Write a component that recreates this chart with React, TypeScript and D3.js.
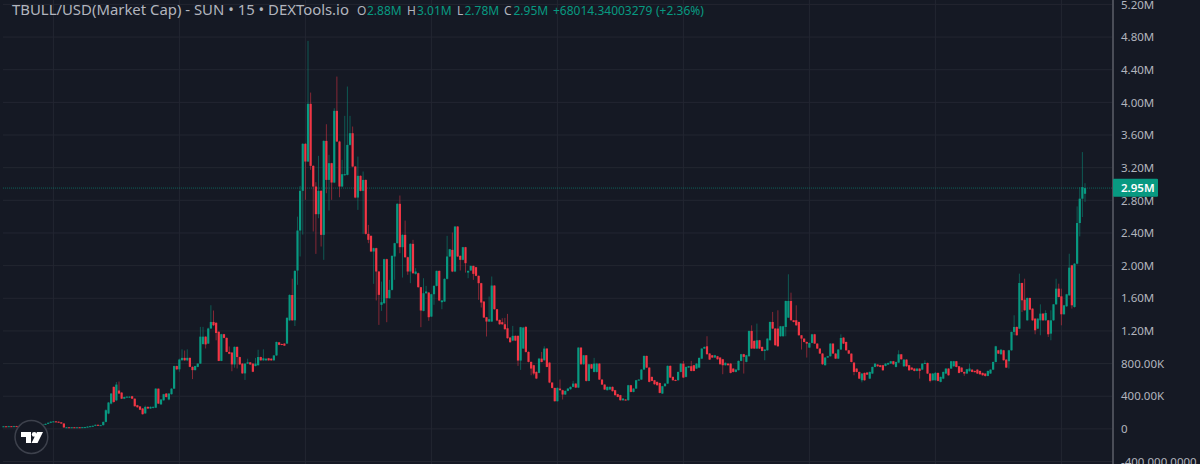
import React from 'react';
import { axisRight, scaleLinear, select } from 'd3';

// values in thousands, one entry per 15 minute bar
const opens = [
  30,32,30,33,32,34,32,33,32,31, 33,35,32,34,36,42,52,62,75,88,
  92,88,80,66,18,20,19,20,19,20, 19,21,22,28,33,38,50,45,
  46,86,188,310,515,350,470,445,370,390, 385,400,370,290,275,250,190,270,250,258,
  260,493,300,350,433,360,425,493,770,730, 840,870,840,870,760,720,760,800,1040,1130,
  1045,1230,1310,1300,1190,833,1160,1115,943,935, 790,1005,880,800,680,800,815,800,770,780,
  880,840,840,865,860,840,900,1060,1040,1045, 1045,1330,1640,1330,
  1940,2430,2916,3492,3275,3982,3222,2969,2630,2916, 2377,3528,3050,3255,3018,3896,3520,2969,3110,3112,
  3479,3622,3214,2834,3100,2916,3050,2389,2365,2173, 2214,1928,1520,1540,2079,1601,1703,2112,2275,2757,
  2226,2377,2103,1928,2267,1899,1907,1736,1446,1662, 1670,1376,1650,1752,1936,1552,1560,1838,2112,2193,
  1928,2479,2120,2071,2226,1915,1940,1997,1981,1875, 1785,1560,1368,1315,1315,1756,1466,1335,1307,1282,
  1233,1119,1082,1140,1140,837,984,1249,943,821, 780,698,686,861,841,984,812,568,502,339,
  494,474,421,466,486,515,555,506,996,792, 902,588,792,698,698,800,604,543,474,482,
  515,474,425,413,351,360,351,535,453,494, 596,604,727,894,751,637,596,576,563,433,523,
  555,772,637,600,596,698, 800,637,751,768,780,739,751,861,984,1012,
  923,902,874,890,874,853,780,800,800,739, 698,719,833,915,821,890,1200,1078,984,1086,
  1004,955,963,1086,1310,1229,1229,1135,1135,1249, 1363,1567,1331,1331,1310,1147,1106,1065,996,1053,
  1159,1045,984,923,780,874,890,1045,923,861,972,
  1118,1065,963,922,812,739,698,596,686,690, 616,678,759,788,780,780,771,788,800,829,
  759,812,914,767,849,780,751,739,710,739, 726,800,808,678,596,596,686,576,616,678,
  739,739,767,829,767,751,698,678,706,726, 710,726,710,686,678,649,678,726,820,963,
  914,963,849,829,963,1188,1249,1228,1787,1583, 1330,1604,1473,1351,1228,1330,1412,1330,1330,1167,
  1330,1526,1718,1624,1404,1502,1636,2004,1494,2024, 2522,2820,2880,
];
const closes = [
  32,30,33,32,34,32,33,32,31,33, 35,32,34,36,42,52,62,75,88,92,
  88,80,66,18,20,19,20,19,20,19, 21,22,28,33,38,50,45,46,
  86,229,323,433,330,543,433,370,390,395, 395,370,277,265,235,180,270,250,270,270,
  493,310,360,425,390,433,493,770,730,850, 870,840,870,760,720,770,800,1130,1130,1035,
  1230,1310,1270,1175,833,1160,1115,943,920,790, 1005,880,790,680,800,815,790,700,800,880,
  840,865,860,840,840,900,1065,1030,1030,1020, 1360,1640,1330,1935,
  2430,2916,3492,3275,3982,3222,2969,2630,2916,2377, 3528,3050,3255,3018,3896,3520,2969,3120,3120,3479,
  3622,3214,2834,3100,2916,3050,2389,2316,2173,2214, 1928,1642,1552,2079,1601,1703,2120,2275,2757,2226,
  2377,2103,1928,2267,1907,1928,1736,1450,1662,1683, 1368,1650,1752,1936,1573,1573,1838,2112,2201,1928,
  2479,2112,2071,2226,2030,1936,1997,1899,1875,1785, 1548,1364,1315,1344,1756,1466,1328,1282,1282,1221,
  1111,1062,1140,1082,837,1246,1241,943,821,739, 678,617,861,820,984,759,568,502,339,502,
  474,421,466,494,515,555,506,996,792,902, 588,792,739,800,800,604,543,482,515,515,
  462,413,392,351,372,351,535,453,494,596, 604,727,894,751,576,588,547,535,441,523,555,
  772,629,596,590,698,800, 629,759,768,710,710,800,870,984,1004,915,
  849,874,902,853,792,780,809,780,686,698, 727,833,915,882,902,1200,984,984,1086,984,
  955,972,1106,1310,1229,1025,1012,1257,1257,1567, 1567,1331,1310,1269,1147,1106,1065,1045,1053,1159,
  1045,984,923,792,874,890,1045,923,861,972,1114,
  1045,963,922,820,698,698,616,678,596,665, 698,759,800,767,759,718,800,808,829,792,
  820,914,853,849,767,718,726,710,739,710, 800,808,678,588,678,686,588,637,698,739,
  657,829,829,759,686,698,678,731,739,698, 695,678,669,657,649,710,726,820,1012,922,
  971,841,751,963,1188,1249,1147,1787,1575,1453, 1604,1461,1330,1208,1351,1412,1330,1420,1159,1330,
  1526,1718,1616,1404,1514,1649,1975,1514,2024,2522, 2820,2962,2950,
];
const highs = [
  36,36,37,36,38,38,37,36,36,37, 38,38,38,40,46,56,66,80,92,97,
  96,92,84,70,23,23,23,23,23,23, 24,25,32,37,42,54,54,50,
  90,240,330,440,520,575,580,450,395,400, 400,405,375,295,280,255,285,275,275,275,
  500,495,365,430,440,440,500,775,775,860, 975,960,975,875,765,775,805,1250,1250,1135,
  1240,1515,1450,1305,1195,1165,1165,1120,1010,940, 1010,1010,885,805,805,860,820,805,870,970,
  885,975,865,870,865,905,1070,1065,1045,1050, 1370,1650,1840,1945,
  2600,2977,3500,3500,4753,4120,3230,3022,3345,2925, 3535,3732,3357,3260,3928,4316,3530,3296,3835,4194,
  3835,3704,3220,3336,3105,3153,3055,2499,2370,2220, 2220,1935,1805,2085,2085,1826,2125,2280,2765,2859,
  2385,2552,2110,2275,2316,1969,1915,1740,1846,1752, 1675,1655,1760,1940,1940,1580,1845,2365,2205,2406,
  2485,2485,2125,2230,2230,1940,2000,2000,1985,1880, 1790,1565,1372,1622,1867,1760,1470,1340,1356,1360,
  1409,1125,1262,1145,1145,1250,1250,1261,950,825, 785,705,870,943,1012,990,815,570,505,510,
  604,480,470,500,520,588,560,1000,1000,905, 905,795,795,870,810,805,610,548,520,520,
  520,478,430,418,376,365,540,540,498,600, 610,732,900,898,755,642,600,580,566,528,560,
  778,778,642,605,702,805, 833,765,772,833,785,805,875,990,1010,1135,
  930,905,908,895,878,858,815,805,805,745, 732,838,920,920,908,1205,1269,1085,1290,1090,
  1010,978,1110,1315,1433,1235,1453,1262,1262,1572, 1894,1669,1335,1514,1315,1150,1110,1070,1058,1165,
  1165,1050,988,928,880,895,1050,1050,928,978,1159,
  1123,1070,968,926,816,743,702,684,690,695, 702,763,805,792,785,785,805,812,833,833,
  825,963,918,853,853,785,755,743,743,743, 805,841,812,683,684,698,690,642,702,743,
  743,833,833,833,771,755,702,735,800,730, 715,730,715,690,682,715,730,825,1018,968,
  975,968,853,968,1192,1392,1255,1902,1792,1840, 1610,1608,1478,1355,1355,1526,1418,1453,1335,1453,
  1530,1840,1779,1718,1520,1655,2146,2010,2030,2726, 2962,3391,3010,
];
const lows = [
  27,27,27,28,28,28,28,28,27,27, 29,29,28,30,32,38,48,58,70,84,
  84,76,62,14,15,15,15,15,15,15, 15,17,18,24,29,34,41,41,
  41,80,180,300,320,340,425,365,365,385, 380,365,275,260,230,175,185,245,245,250,
  255,305,295,345,385,350,420,490,720,700, 840,835,830,755,610,715,755,795,1030,985,
  1040,1225,1260,1085,830,830,1110,940,915,706, 750,740,785,675,600,795,785,695,765,775,
  835,835,835,835,835,835,895,1025,1025,1015, 1040,1320,1325,1260,
  1765,2112,2380,2806,3270,3173,2418,2144,2581,2234, 2071,2887,2675,2806,3010,3515,2838,2960,3100,3105,
  3470,3205,2825,2683,2910,2389,2380,2275,2165,1777, 1573,1274,1446,1530,1307,1595,1695,1826,2270,2152,
  1854,2095,1887,1785,1900,1890,1730,1246,1440,1655, 1324,1370,1520,1745,1565,1466,1555,1830,2105,1920,
  1920,2105,1940,2065,1915,1846,1935,1826,1870,1581, 1487,1360,1132,1310,1310,1460,1320,1275,1275,1215,
  1105,1055,1075,1075,772,723,980,935,815,657, 657,610,680,815,835,755,560,495,335,335,
  470,360,415,460,480,510,500,500,785,785, 580,583,735,692,690,600,538,478,470,478,
  458,408,388,346,346,346,346,448,448,490, 592,600,722,746,570,584,542,530,436,428,518,
  550,622,590,585,592,693, 622,630,745,705,705,735,745,855,980,910,
  845,870,870,848,788,670,775,775,680,692, 692,715,828,678,815,885,980,980,980,978,
  950,841,958,1080,1222,1020,1005,1130,1130,1135, 1358,1325,1305,1263,1142,972,1060,874,990,1048,
  1040,980,918,785,775,870,885,918,856,856,968,
  1040,958,916,814,657,692,610,570,590,660, 610,672,754,762,754,712,766,783,795,786,
  753,806,848,760,762,712,720,705,705,616, 720,795,672,570,590,590,582,570,610,672,
  652,735,762,754,680,694,650,674,702,694, 690,673,664,652,640,645,674,720,815,918,
  910,836,746,739,958,1147,1142,1222,1432,1448, 1325,1455,1325,1159,1222,1147,1325,1325,1126,1086,
  1325,1520,1610,1269,1400,1495,1630,1473,1485,2015, 2358,2595,2780,
];

const priceTicks = [5200, 4800, 4400, 4000, 3600, 3200, 2800, 2400, 2000, 1600, 1200, 800, 400, 0, -400];
const priceLabels = ['5.20M', '4.80M', '4.40M', '4.00M', '3.60M', '3.20M', '2.80M', '2.40M', '2.00M', '1.60M', '1.20M', '800.00K', '400.00K', '0', '-400,000.0000'];
const timeTicks = [19, 67, 115, 163, 211, 259, 307, 355, 403];

const lastPrice = 2950;
const lastLabel = '2.95M';

const legend = [
  { text: 'O', x: 357, c: 'label' },
  { text: '2.88M', x: 367, c: 'up' },
  { text: 'H', x: 407, c: 'label' },
  { text: '3.01M', x: 417, c: 'up' },
  { text: 'L', x: 457, c: 'label' },
  { text: '2.78M', x: 464.5, c: 'up' },
  { text: 'C', x: 504, c: 'label' },
  { text: '2.95M', x: 513.5, c: 'up' },
  { text: '+68014.34003279', x: 553, c: 'up' },
  { text: '(+2.36%)', x: 656, c: 'up' },
];

const WIDTH = 1200;
const HEIGHT = 464;
const FONT = '"Noto Sans", sans-serif';
const UP = '#089981';
const DOWN = '#f23645';
const BG = '#151924';
const GRID = '#232631';

const App: React.FC = () => {
  const svgRef = React.useRef<SVGSVGElement>(null);

  const x = scaleLinear().domain([0, opens.length - 1]).range([3.5, 1085]);
  const y = scaleLinear().domain([0, 5200]).range([428.9, 4.4]);

  React.useEffect(() => {
    const svg = select(svgRef.current);
    svg.selectAll('*').remove();

    // grid
    svg.append('g')
      .selectAll('line')
      .data(priceTicks)
      .join('line')
      .attr('x1', 3)
      .attr('x2', 1113)
      .attr('y1', d => y(d))
      .attr('y2', d => y(d))
      .attr('stroke', GRID);
    svg.append('g')
      .selectAll('line')
      .data(timeTicks)
      .join('line')
      .attr('x1', d => x(d))
      .attr('x2', d => x(d))
      .attr('y1', 0)
      .attr('y2', HEIGHT)
      .attr('stroke', GRID);

    // last price line
    svg.append('line')
      .attr('x1', 3)
      .attr('x2', 1113)
      .attr('y1', y(lastPrice))
      .attr('y2', y(lastPrice))
      .attr('stroke', UP)
      .attr('stroke-opacity', 0.55)
      .attr('stroke-dasharray', '1 1');

    // wicks then bodies
    const bars = opens.map((o, i) => ({ i, o, c: closes[i], h: highs[i], l: lows[i] }));
    svg.append('g')
      .selectAll('rect')
      .data(bars)
      .join('rect')
      .attr('x', d => x(d.i) - 0.5)
      .attr('width', 1)
      .attr('y', d => y(d.h))
      .attr('height', d => y(d.l) - y(d.h))
      .attr('fill', d => (d.c >= d.o ? UP : DOWN))
      .attr('fill-opacity', 0.5);
    svg.append('g')
      .selectAll('rect')
      .data(bars)
      .join('rect')
      .attr('x', d => x(d.i) - 1.1)
      .attr('width', 2.2)
      .attr('y', d => y(Math.max(d.o, d.c)))
      .attr('height', d => Math.max(1, Math.abs(y(d.o) - y(d.c))))
      .attr('fill', d => (d.c >= d.o ? UP : DOWN));

    // price axis
    const axis = axisRight(y)
      .tickValues(priceTicks)
      .tickSize(0)
      .tickPadding(8)
      .tickFormat((_, i) => priceLabels[i]);
    const axisGroup = svg.append('g').attr('transform', 'translate(1113,0)').call(axis);
    axisGroup.select('.domain').remove();
    axisGroup.selectAll('text')
      .attr('fill', '#b2b5be')
      .attr('font-family', FONT)
      .attr('font-size', 11.5);
    svg.append('line')
      .attr('x1', 1113)
      .attr('x2', 1113)
      .attr('y1', 0)
      .attr('y2', HEIGHT)
      .attr('stroke', '#4a4d57')
      .attr('stroke-width', 2);

    // last price tag
    svg.append('rect')
      .attr('x', 1113)
      .attr('y', y(lastPrice) - 9.3)
      .attr('width', 45)
      .attr('height', 18)
      .attr('rx', 1)
      .attr('fill', UP);
    svg.append('text')
      .attr('x', 1121)
      .attr('y', y(lastPrice))
      .attr('dy', '0.35em')
      .attr('fill', '#ffffff')
      .attr('font-family', FONT)
      .attr('font-size', 11.5)
      .attr('font-weight', 600)
      .text(lastLabel);
  }, []);

  return (
    <div style={{ position: 'fixed', left: 0, top: 0, width: WIDTH, height: HEIGHT, background: BG, overflow: 'hidden' }}>
      <svg ref={svgRef} width={WIDTH} height={HEIGHT} style={{ position: 'absolute', left: 0, top: 0 }} />
      <svg width={WIDTH} height={HEIGHT} style={{ position: 'absolute', left: 0, top: 0 }}>
        <text x={12} y={15} fontFamily={FONT} fontSize={14.9} fill="#b2b5be">TBULL/USD(Market Cap) - SUN • 15 • DEXTools.io</text>
        {legend.map(d => (
          <text key={d.x} x={d.x} y={15} fontFamily={FONT} fontSize={12} fill={d.c === 'up' ? UP : '#b2b5be'}>{d.text}</text>
        ))}
        {/* TradingView badge */}
        <circle cx={31.4} cy={437} r={16.4} fill={BG} stroke="#3d414c" strokeWidth={1.5} />
        <path d="M21 432H31V443H26V437H21Z M43 432L37.5 443H31.5L37 432Z" fill="#ffffff" />
        <circle cx={34.2} cy={434.4} r={2.4} fill="#ffffff" />
      </svg>
    </div>
  );
};

export default App;
